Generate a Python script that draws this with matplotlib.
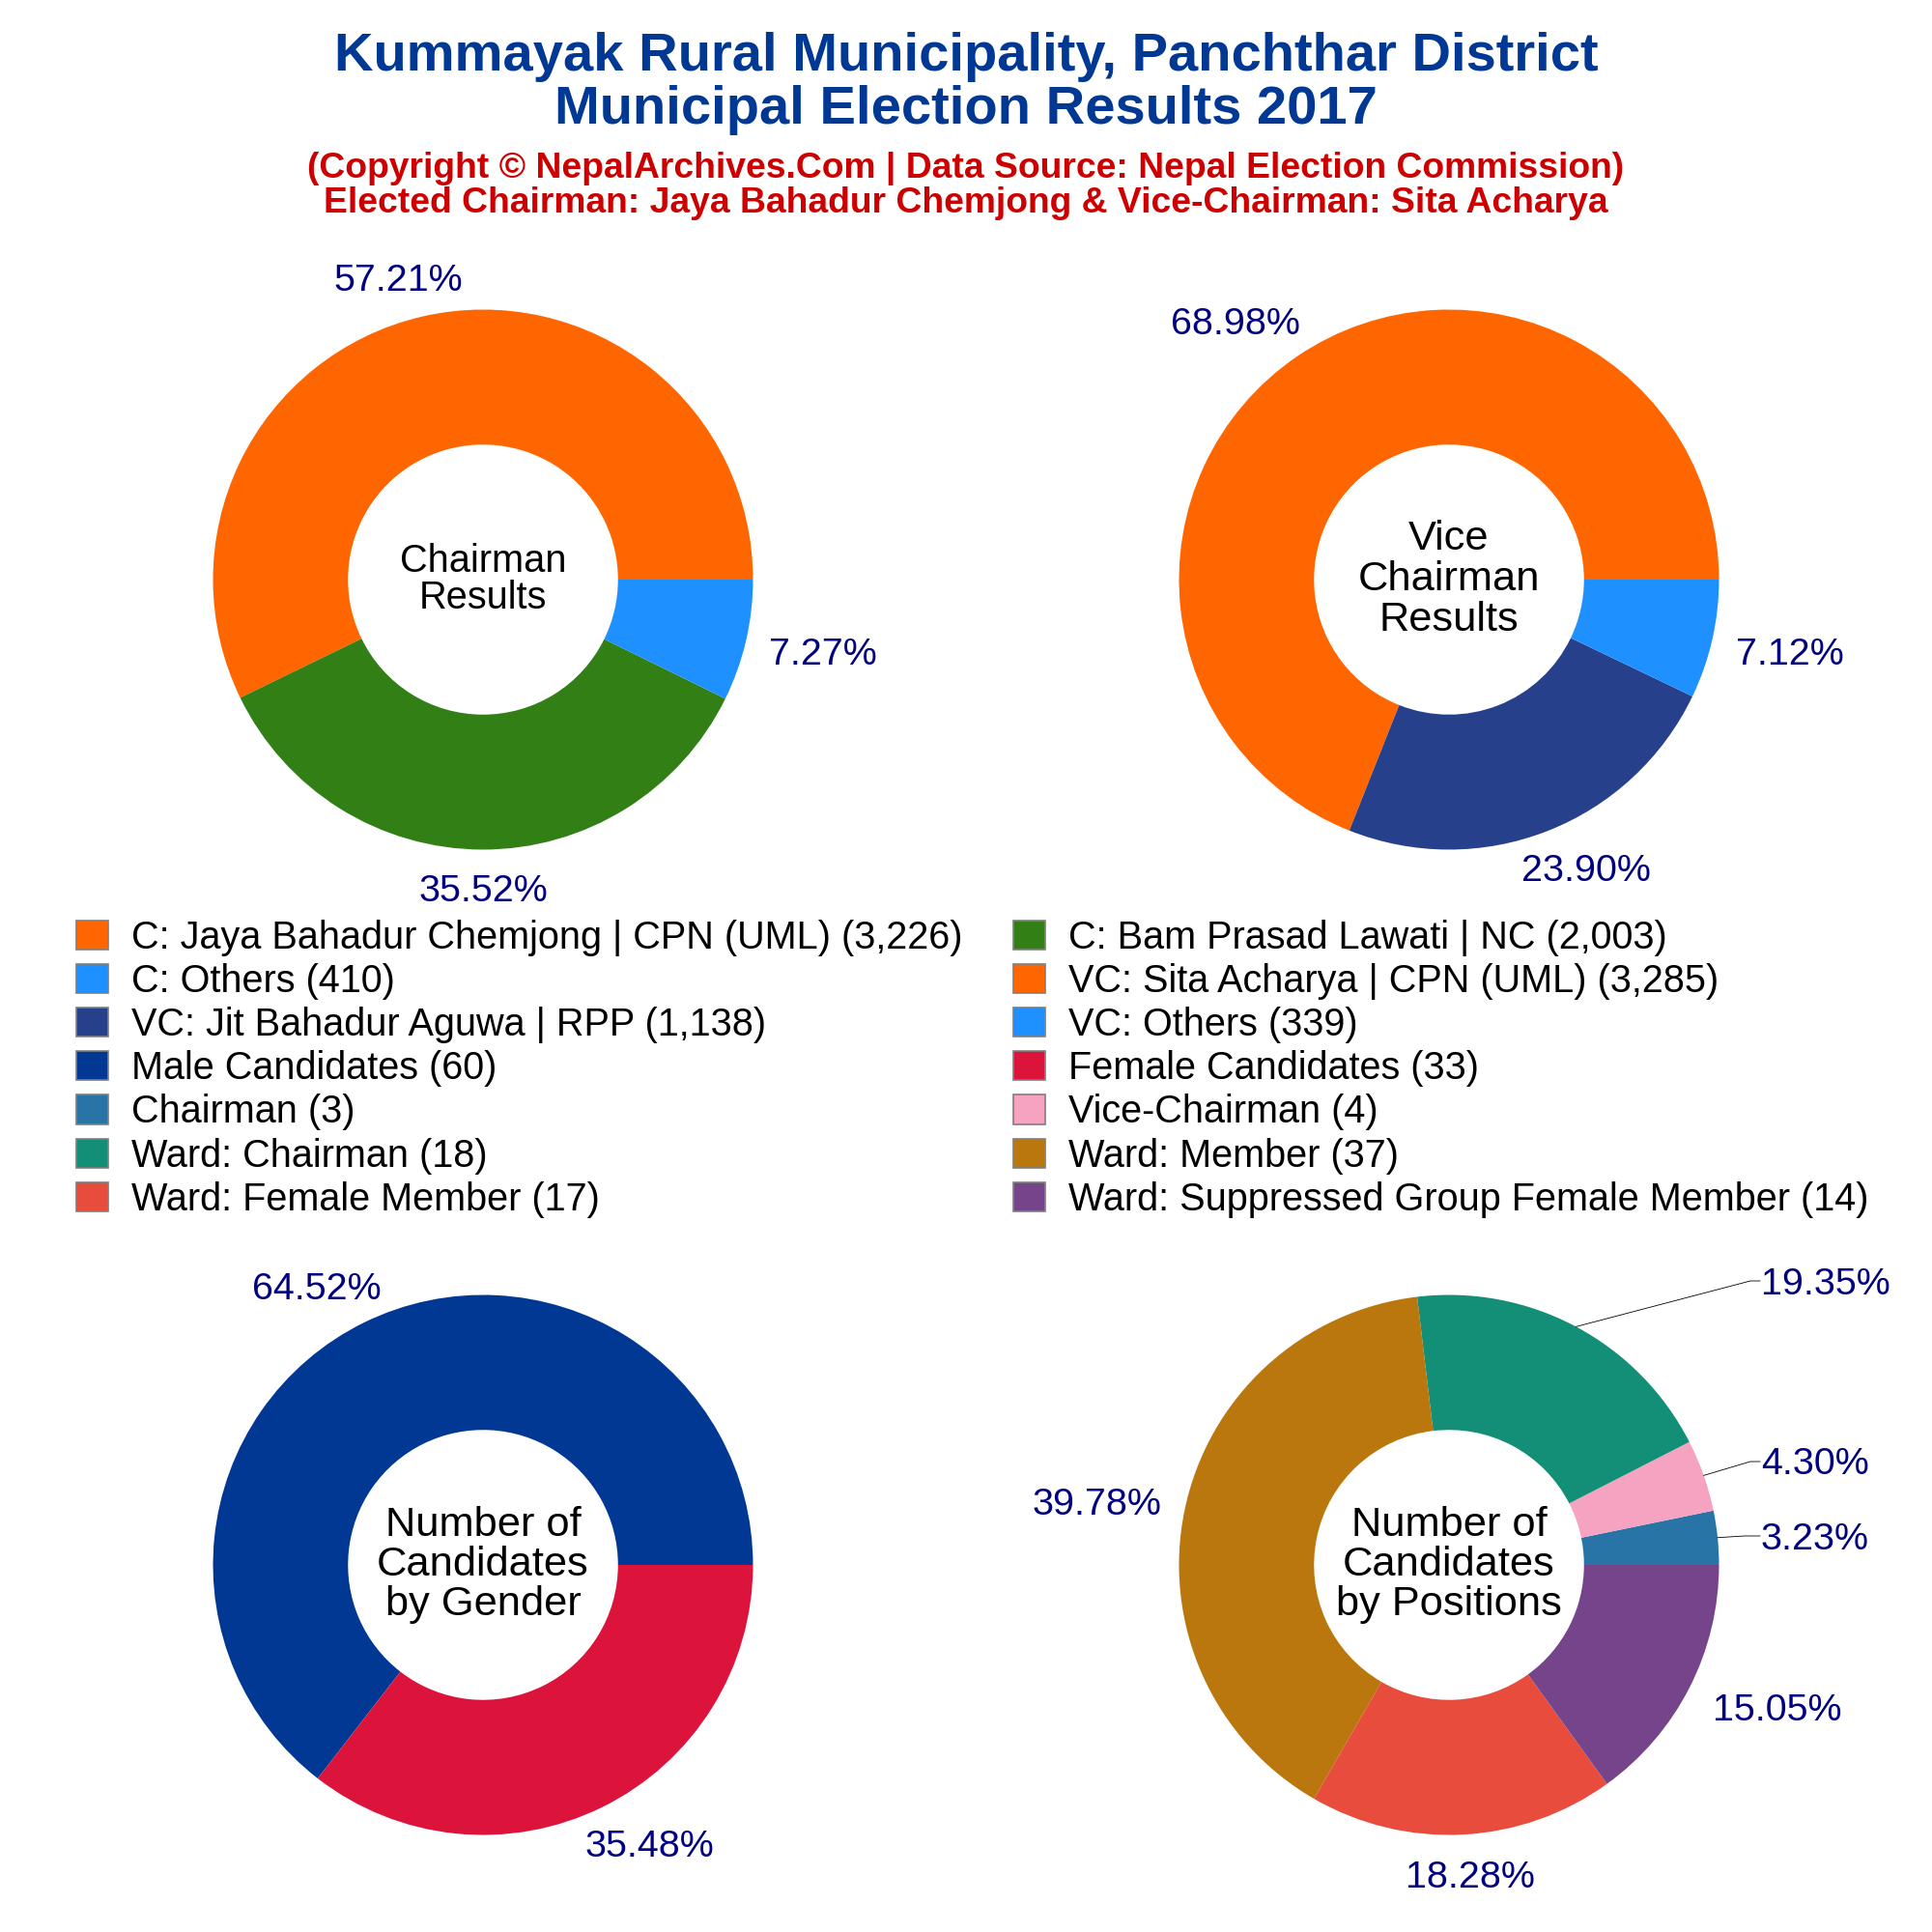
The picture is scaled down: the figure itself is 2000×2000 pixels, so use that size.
import matplotlib
matplotlib.use("Agg")
import matplotlib.pyplot as plt
from matplotlib.lines import Line2D
from matplotlib.patches import Patch
import numpy as np

plt.rcParams['font.family'] = ['Liberation Sans', 'DejaVu Sans']

# ---------- data ----------
chair_names = ["C: Jaya Bahadur Chemjong | CPN (UML)", "C: Bam Prasad Lawati | NC", "C: Others"]
chair_votes = [3226, 2003, 410]
chair_colors = ["#FF6600", "#317F15", "#1E90FF"]

vice_names = ["VC: Sita Acharya | CPN (UML)", "VC: Jit Bahadur Aguwa | RPP", "VC: Others"]
vice_votes = [3285, 1138, 339]
vice_colors = ["#FF6600", "#27408B", "#1E90FF"]

gender_names = ["Male Candidates", "Female Candidates"]
gender_counts = [60, 33]
gender_colors = ["#003893", "#DC143C"]

pos_names = ["Chairman", "Vice-Chairman", "Ward: Chairman", "Ward: Member",
             "Ward: Female Member", "Ward: Suppressed Group Female Member"]
pos_counts = [3, 4, 18, 37, 17, 14]
pos_colors = ["#2874A6", "#F5A3C0", "#148F77", "#B9770E", "#E74C3C", "#76448A"]

W = 2000
fig = plt.figure(figsize=(20, 20), dpi=100, facecolor="white")


def fx(x):
    return x / W


def fy(y):
    return 1 - y / W


R = 279.5
VAL_COLOR = "#000080"
VAL_SIZE = 28.4


def donut(cx, cy, values, colors, label_xy, center_lines, center_size, center_step):
    ax = fig.add_axes([fx(cx - R), fy(cy + R), 2 * R / W, 2 * R / W])
    ax.pie(values, colors=colors, startangle=0, counterclock=True, radius=1,
           wedgeprops=dict(width=0.5, linewidth=0))
    ax.set_xlim(-1, 1)
    ax.set_ylim(-1, 1)
    ax.set_aspect("equal")
    ax.axis("off")
    for a in ax.patches:
        a.set_clip_on(False)
    total = sum(values)
    for v, (x, y) in zip(values, label_xy):
        fig.text(fx(x), fy(y + 3), f"{v / total * 100:.2f}%", color=VAL_COLOR,
                 fontsize=VAL_SIZE, ha="center", va="center")
    n = len(center_lines)
    for i, line in enumerate(center_lines):
        fig.text(fx(cx), fy(cy + (i - (n - 1) / 2) * center_step), line, color="black",
                 fontsize=center_size, ha="center", va="center")
    return total


s = W / 1568
donut(500, 600, chair_votes, chair_colors,
      [(323 * s, 226 * s), (392 * s, 721 * s), (668 * s, 529 * s)],
      ["Chairman", "Results"], 28.6, 38)
donut(1500, 600, vice_votes, vice_colors,
      [(1003 * s, 261 * s), (1287 * s, 705 * s), (1453 * s, 529 * s)],
      ["Vice", "Chairman", "Results"], 31.2, 42)
donut(500, 1620, gender_counts, gender_colors,
      [(257 * s, 1044 * s), (527 * s, 1497 * s)],
      ["Number of", "Candidates", "by Gender"], 31.2, 41)
pos_total = donut(1500, 1620, pos_counts, pos_colors,
                  [(1473 * s, 1247 * s), (1473 * s, 1186 * s), (1482 * s, 1040 * s),
                   (890 * s, 1219 * s), (1193 * s, 1522 * s), (1442 * s, 1386 * s)],
                  ["Number of", "Candidates", "by Positions"], 31.2, 41)

# leader lines of the three small-position labels
elbows = {0: (1806, 1590), 1: (1812, 1513), 2: (1812, 1326)}
cum = np.cumsum(pos_counts)
for i, (ex, ey) in elbows.items():
    mid = (cum[i] - pos_counts[i] / 2) / pos_total * 2 * np.pi
    sx, sy = 1500 + R * np.cos(mid), 1620 - R * np.sin(mid)
    fig.add_artist(Line2D([fx(sx), fx(ex), fx(1822)], [fy(sy), fy(ey), fy(ey)],
                          color="black", linewidth=0.6, transform=fig.transFigure))

# legends, read row by row: first column holds the even entries, second the odd ones
all_names = chair_names + vice_names + gender_names + pos_names
all_vals = chair_votes + vice_votes + gender_counts + pos_counts
all_cols = chair_colors + vice_colors + gender_colors + pos_colors
handles = [Patch(facecolor=c, edgecolor="#7F7F7F", linewidth=1.2,
                 label=f"{n} ({v:,})") for n, v, c in zip(all_names, all_vals, all_cols)]
LEG_SIZE = 28.5
for hs, x0 in ((handles[0::2], 79), (handles[1::2], 1049)):
    fig.legend(handles=hs, loc="upper left", bbox_to_anchor=(fx(x0), fy(951.5)),
               bbox_transform=fig.transFigure, frameon=False, fontsize=LEG_SIZE,
               ncol=1, borderpad=0, borderaxespad=0, handlelength=0.84, handleheight=0.8,
               handletextpad=0.6, labelspacing=0.182)

# titles
TITLE = "#003893"
SUB = "#CC0000"
fig.text(0.5, fy(59), "Kummayak Rural Municipality, Panchthar District", color=TITLE,
         fontsize=40.4, fontweight="bold", ha="center", va="center")
fig.text(0.5, fy(114), "Municipal Election Results 2017", color=TITLE,
         fontsize=40.4, fontweight="bold", ha="center", va="center")
fig.text(0.5, fy(174), "(Copyright © NepalArchives.Com | Data Source: Nepal Election Commission)",
         color=SUB, fontsize=26.8, fontweight="bold", ha="center", va="center")
fig.text(0.5, fy(210), "Elected Chairman: Jaya Bahadur Chemjong & Vice-Chairman: Sita Acharya",
         color=SUB, fontsize=26.8, fontweight="bold", ha="center", va="center")

fig.savefig("out.png", dpi=100, facecolor="white")
